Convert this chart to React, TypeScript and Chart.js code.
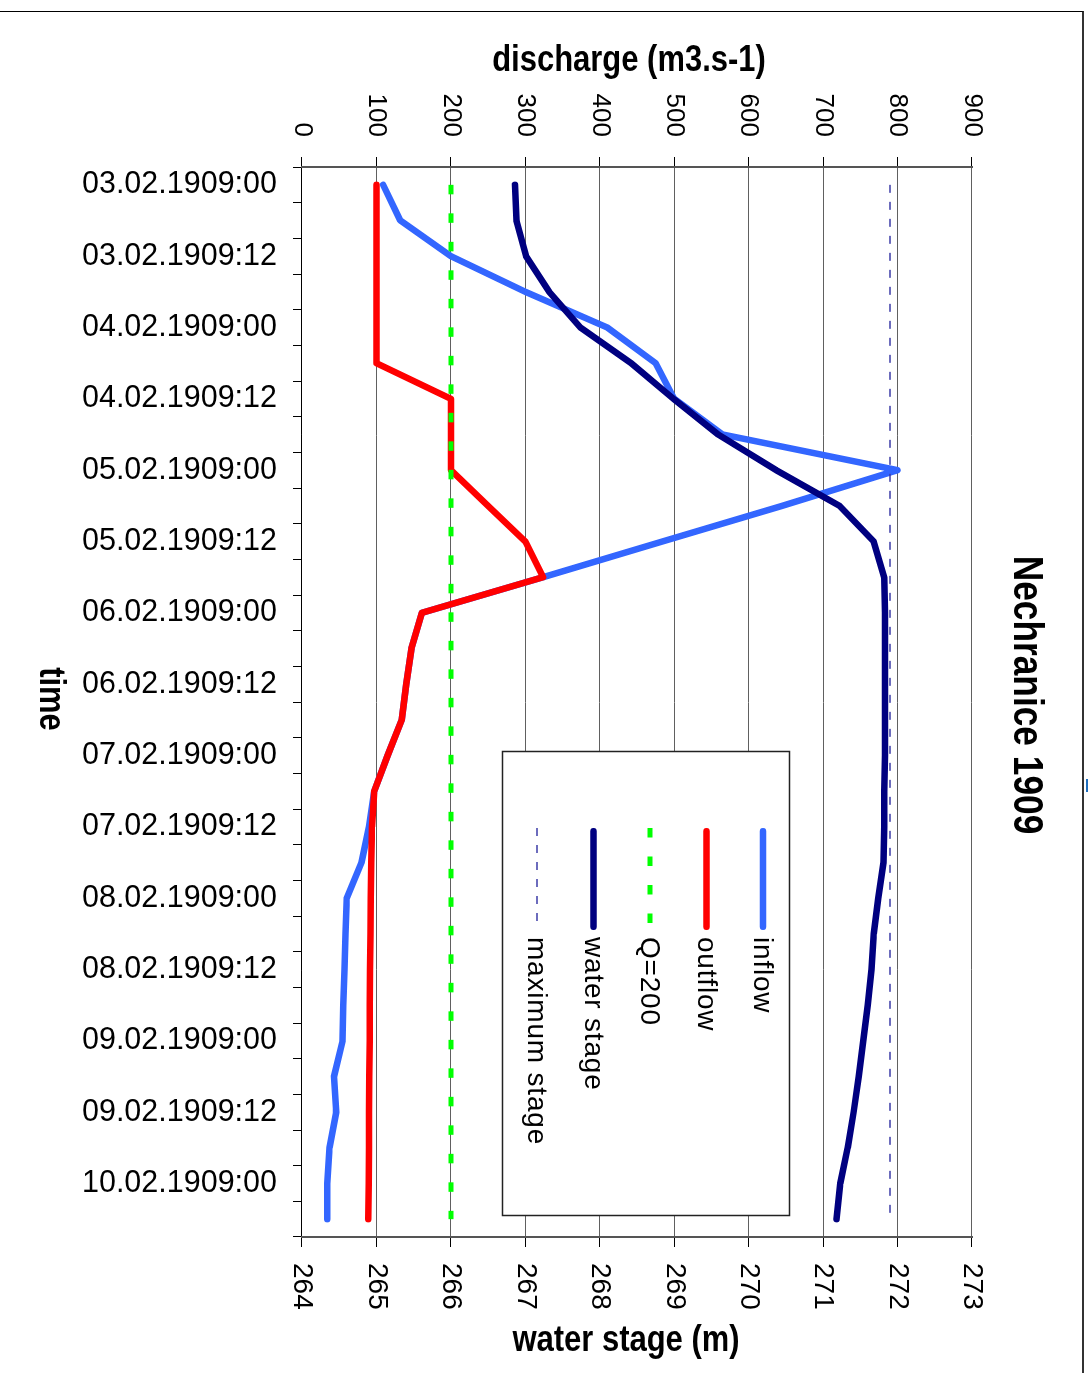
import React, { useEffect, useRef } from 'react';
import { Chart, registerables } from 'chart.js';

Chart.register(...registerables);

// ---------- data ----------
const chartTitle = 'Nechranice 1909';
const dischargeTitle = 'discharge (m3.s-1)';
const stageTitle = 'water stage (m)';
const timeTitle = 'time';

const timeLabels = [
  '03.02.1909:00', '03.02.1909:06', '03.02.1909:12', '03.02.1909:18',
  '04.02.1909:00', '04.02.1909:06', '04.02.1909:12', '04.02.1909:18',
  '05.02.1909:00', '05.02.1909:06', '05.02.1909:12', '05.02.1909:18',
  '06.02.1909:00', '06.02.1909:06', '06.02.1909:12', '06.02.1909:18',
  '07.02.1909:00', '07.02.1909:06', '07.02.1909:12', '07.02.1909:18',
  '08.02.1909:00', '08.02.1909:06', '08.02.1909:12', '08.02.1909:18',
  '09.02.1909:00', '09.02.1909:06', '09.02.1909:12', '09.02.1909:18',
  '10.02.1909:00', '10.02.1909:06',
];

const inflow = [
  109, 132, 200, 300, 410, 475, 500, 565, 800, 645,
  484, 324, 161, 147, 140, 134, 115, 97, 90, 80,
  60, 58.5, 57, 55.5, 54.5, 43, 46, 37, 34, 34,
];

const outflow = [
  100, 100, 100, 100, 100, 100, 200, 200, 200, 250,
  300, 324, 161, 147, 140, 134, 115, 97, 94, 93,
  92.5, 92, 91.5, 91, 91, 90.5, 90, 90, 89.5, 89,
];

const waterStage = [
  266.86, 266.88, 267.01, 267.32, 267.74, 268.42, 268.99, 269.59, 270.37, 271.22,
  271.68, 271.82, 271.83, 271.83, 271.83, 271.83, 271.83, 271.82, 271.82, 271.81,
  271.74, 271.68, 271.65, 271.6, 271.54, 271.48, 271.41, 271.33, 271.23, 271.18,
];

const q200 = 200;
const maxStage = 271.9;

const seriesNames = ['inflow', 'outflow', 'Q=200', 'water stage', 'maximum stage'];

const dischargeMin = 0;
const dischargeMax = 900;
const dischargeStep = 100;
const stageMin = 264;
const stageMax = 273;
const stageStep = 1;

// ---------- styles ----------
const SANS = '"Liberation Sans", Arial, sans-serif';

const CW = 1373; // canvas width (time direction before rotation)
const CH = 1089; // canvas height

function drawCondensed(
  ctx: CanvasRenderingContext2D, text: string, x: number, y: number,
  rot: number, font: string, squeeze: number,
) {
  ctx.save();
  ctx.translate(x, y);
  ctx.rotate(rot);
  ctx.scale(squeeze, 1);
  ctx.font = font;
  ctx.textAlign = 'center';
  ctx.textBaseline = 'middle';
  ctx.fillStyle = '#000';
  ctx.fillText(text, 0, 0);
  ctx.restore();
}

const textPlugin = {
  id: 'rotatedTexts',
  afterDraw(chart: any) {
    const ctx = chart.ctx as CanvasRenderingContext2D;
    drawCondensed(ctx, chartTitle, 695, 63, 0, `bold 42px ${SANS}`, 0.84);
    drawCondensed(ctx, timeTitle, 699, 1039, 0, `bold 36px ${SANS}`, 0.86);
    drawCondensed(ctx, dischargeTitle, 61, 460, -Math.PI / 2, `bold 36px ${SANS}`, 0.86);
    drawCondensed(ctx, stageTitle, 1341, 463, -Math.PI / 2, `bold 36px ${SANS}`, 0.86);
  },
};

const legendPlugin = {
  id: 'boxLegend',
  afterDatasetsDraw(chart: any) {
    const ctx = chart.ctx as CanvasRenderingContext2D;
    const bx = 751, by = 299, bw = 464, bh = 287;
    ctx.save();
    ctx.fillStyle = '#fff';
    ctx.fillRect(bx, by, bw, bh);
    ctx.strokeStyle = '#222';
    ctx.lineWidth = 1.5;
    ctx.strokeRect(bx + 0.5, by + 0.5, bw, bh);
    const ds = chart.data.datasets;
    for (let i = 0; i < ds.length; i++) {
      const d = ds[i];
      const y = 326 + i * 56.5;
      ctx.save();
      ctx.strokeStyle = d.borderColor;
      ctx.lineWidth = d.borderWidth;
      ctx.lineCap = d.borderCapStyle || 'butt';
      ctx.setLineDash(d.borderDash || []);
      ctx.beginPath();
      const cap = ctx.lineCap === 'round' ? d.borderWidth / 2 : 0;
      ctx.moveTo(828 + cap, y);
      ctx.lineTo(930 - cap, y);
      ctx.stroke();
      ctx.restore();
      ctx.save();
      ctx.fillStyle = '#000';
      ctx.font = `28px ${SANS}`;
      (ctx as any).letterSpacing = '0.8px';
      ctx.textAlign = 'left';
      ctx.textBaseline = 'middle';
      ctx.fillText(d.label, 937, y + 1);
      ctx.restore();
    }
    ctx.restore();
  },
};

export default function App() {
  const ref = useRef<HTMLCanvasElement>(null);

  useEffect(() => {
    const canvas = ref.current;
    if (!canvas) return;
    const first = timeLabels[0];
    const last = timeLabels[timeLabels.length - 1];
    const chart = new Chart(canvas, {
      type: 'line',
      data: {
        labels: timeLabels,
        datasets: [
          {
            label: seriesNames[0], data: inflow, yAxisID: 'yQ',
            borderColor: '#3366FF', borderWidth: 6.5, borderCapStyle: 'round', borderJoinStyle: 'round',
            pointRadius: 0, fill: false, order: 4,
          },
          {
            label: seriesNames[1], data: outflow, yAxisID: 'yQ',
            borderColor: '#FF0000', borderWidth: 6.5, borderCapStyle: 'round', borderJoinStyle: 'round',
            pointRadius: 0, fill: false, order: 3,
          },
          {
            label: seriesNames[2], data: [{ x: first, y: q200 }, { x: last, y: q200 }] as any, yAxisID: 'yQ',
            borderColor: '#00FF00', borderWidth: 5, borderDash: [9.5, 19], borderCapStyle: 'butt',
            pointRadius: 0, fill: false, order: 1,
          },
          {
            label: seriesNames[3], data: waterStage, yAxisID: 'yS',
            borderColor: '#000080', borderWidth: 6.5, borderCapStyle: 'round', borderJoinStyle: 'round',
            pointRadius: 0, fill: false, order: 2,
          },
          {
            label: seriesNames[4], data: [{ x: first, y: maxStage }, { x: last, y: maxStage }] as any, yAxisID: 'yS',
            borderColor: '#3c3ca8', borderWidth: 1.5, borderDash: [8, 9], borderCapStyle: 'butt',
            pointRadius: 0, fill: false, order: 0,
          },
        ],
      },
      options: {
        responsive: false,
        animation: false,
        devicePixelRatio: 1,
        events: [],
        layout: { padding: { top: 117, left: 0, right: 0, bottom: 0 } },
        elements: { line: { tension: 0 }, point: { radius: 0 } },
        plugins: {
          legend: { display: false },
          tooltip: { enabled: false },
          title: { display: false },
        },
        scales: {
          x: {
            type: 'category',
            position: 'bottom',
            offset: true,
            grid: { offset: true, drawOnChartArea: false, drawTicks: true, tickLength: 9, tickColor: '#000', color: '#000' },
            border: { display: true, color: '#000', width: 1 },
            ticks: {
              autoSkip: false, minRotation: 90, maxRotation: 90, padding: 16, color: '#000',
              font: { family: SANS, size: 30.5 },
              callback: (_v: any, i: number) => (i % 2 === 0 ? timeLabels[i] : ''),
            },
            afterFit: (s: any) => { s.height = 302; },
          },
          yQ: {
            type: 'linear',
            position: 'left',
            min: dischargeMin,
            max: dischargeMax,
            ticks: { stepSize: dischargeStep, padding: 20, color: '#000', font: { family: SANS, size: 26 } },
            grid: { color: '#606060', lineWidth: 1, tickLength: 10, tickColor: '#000' },
            border: { display: true, color: '#555', width: 2 },
            afterFit: (s: any) => { s.width = 167; },
          },
          yS: {
            type: 'linear',
            position: 'right',
            min: stageMin,
            max: stageMax,
            ticks: { stepSize: stageStep, padding: 16, color: '#000', font: { family: SANS, size: 28 } },
            grid: { drawOnChartArea: false, tickLength: 10, tickColor: '#000', color: '#000' },
            border: { display: true, color: '#555', width: 2 },
            afterFit: (s: any) => { s.width = 136; },
          },
        },
      } as any,
      plugins: [legendPlugin, textPlugin],
    });
    return () => chart.destroy();
  }, []);

  return (
    <div style={{ position: 'absolute', left: 0, top: 0, width: 1089, height: 1373, overflow: 'hidden', background: '#fff' }}>
      <div
        style={{
          position: 'absolute', left: 0, top: 0, width: CW, height: CH,
          transformOrigin: '0 0', transform: 'translate(1089px, 0px) rotate(90deg)',
        }}
      >
        <canvas ref={ref} width={CW} height={CH} style={{ display: 'block' }} />
      </div>
      <div
        style={{
          position: 'absolute', left: -2, top: 11, width: 1086, height: 1400, boxSizing: 'border-box',
          borderTop: '1px solid #000', borderRight: '2px solid #333',
        }}
      />
      <div style={{ position: 'absolute', left: 1086, top: 779, width: 2, height: 13, background: '#1f6fbf' }} />
    </div>
  );
}
